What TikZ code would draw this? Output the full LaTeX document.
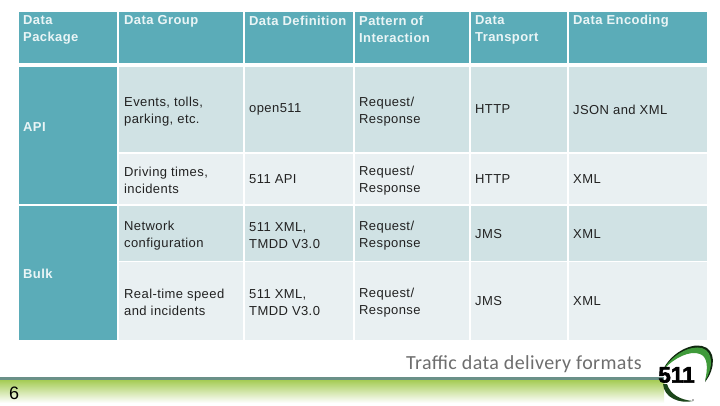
\documentclass[tikz,border=0pt]{standalone}
\usepackage{fontspec}
\setmainfont[LetterSpace=3.2]{Liberation Sans}
\newfontfamily\titlefont[LetterSpace=2]{Carlito}
\newfontfamily\logofont[FakeBold=2.5]{Liberation Sans Bold}
\definecolor{hd}{HTML}{5BACB8}
\definecolor{rowa}{HTML}{D0E2E4}
\definecolor{rowb}{HTML}{E9F0F2}
\definecolor{hdtext}{HTML}{EAF5F6}
\definecolor{bodytext}{HTML}{222222}
\definecolor{barline}{HTML}{6A9088}
\definecolor{bargreen}{HTML}{A5CC55}
\definecolor{titlegrey}{HTML}{6E6E6E}
\definecolor{logogreen}{HTML}{3F9A3A}
\tikzset{
 x=1pt,y=-1pt,
 hdcell/.style={fill=hd},
 acell/.style={fill=rowa},
 bcell/.style={fill=rowb},
 hdtxt/.style={anchor=west,inner sep=0pt,align=left,text=hdtext,font=\fontsize{13}{17}\selectfont\bfseries},
 txt/.style={anchor=west,inner sep=0pt,align=left,text=bodytext,font=\fontsize{13}{17}\selectfont},
}
\begin{document}
\begin{tikzpicture}
\useasboundingbox (0,0) rectangle (720,405);
\fill[white] (0,0) rectangle (720,405);
% header
\foreach \a/\b in {19/117,119/243,245/353,355/469,471/567,569/707}{
  \fill[hdcell] (\a,12) rectangle (\b,63);
}
% package cells
\fill[hdcell] (19,67) rectangle (117,204);
\fill[hdcell] (19,206) rectangle (117,340);
% body
\foreach \a/\b in {119/243,245/353,355/469,471/567,569/707}{
  \fill[acell] (\a,67) rectangle (\b,152);
  \fill[bcell] (\a,154) rectangle (\b,204);
  \fill[acell] (\a,206) rectangle (\b,261);
  \fill[bcell] (\a,262) rectangle (\b,340);
}
% header text
\node[hdtxt] (h1) at (23,29.7) {Data\\Package};
\node[hdtxt] (h2) at (124,21.2) {Data Group};
\node[hdtxt] (h3) at (249,21.2) {Data Definition};
\node[hdtxt] (h4) at (359,29.7) {Pattern of\\Interaction};
\node[hdtxt] (h5) at (475,29.7) {Data\\Transport};
\node[hdtxt] (h6) at (573,21.2) {Data Encoding};
\node[hdtxt] (api) at (23,127.5) {API};
\node[hdtxt] (bulk) at (23,273.5) {Bulk};
% rows
\node[txt] (a2) at (124,111.5) {Events, tolls,\\parking, etc.};
\node[txt] (a3) at (249,109.5) {open511};
\node[txt] (a4) at (359,111.5) {Request/\\Response};
\node[txt] (a5) at (475,109.5) {HTTP};
\node[txt] (a6) at (573,109.5) {JSON and XML};
\node[txt] (b2) at (124,180.5) {Driving times,\\incidents};
\node[txt] (b3) at (249,179.5) {511 API};
\node[txt] (b4) at (359,180.5) {Request/\\Response};
\node[txt] (b5) at (475,179.5) {HTTP};
\node[txt] (b6) at (573,179.5) {XML};
\node[txt] (c2) at (124,235.5) {Network\\configuration};
\node[txt] (c3) at (249,235.5) {511 XML,\\TMDD V3.0};
\node[txt] (c4) at (359,235.5) {Request/\\Response};
\node[txt] (c5) at (475,234.5) {JMS};
\node[txt] (c6) at (573,234.5) {XML};
\node[txt] (d2) at (124,302.5) {Real-time speed\\and incidents};
\node[txt] (d3) at (249,302.5) {511 XML,\\TMDD V3.0};
\node[txt] (d4) at (359,302.5) {Request/\\Response};
\node[txt] (d5) at (475,301.5) {JMS};
\node[txt] (d6) at (573,301.5) {XML};
% bottom bar
\shade[top color=bargreen,bottom color=white] (0,380) rectangle (664,403);
\fill[barline] (0,377) rectangle (664,380);
\node[anchor=west,inner sep=0pt,text=titlegrey,font=\titlefont\fontsize{20}{22}\selectfont] (title) at (406,364) {Traffic data delivery formats};
\node[anchor=west,inner sep=0pt,font=\fontsize{18}{20}\selectfont] (num) at (9,393) {6};
% logo
\fill[black!75!logogreen] (663,370) .. controls (670,354) and (690,343) .. (702,346) .. controls (716,349) and (716,368) .. (705,382) .. controls (709,368) and (711,355) .. (701,351) .. controls (690,347) and (674,356) .. (663,370) -- cycle;
\fill[logogreen] (664,369) .. controls (672,355) and (690,345) .. (702,348) .. controls (714,352) and (713,368) .. (705,381) .. controls (708,368) and (708,357) .. (700,354) .. controls (690,350) and (674,358) .. (664,369) -- cycle;
\fill[black!55!logogreen] (663,384) .. controls (664,398) and (680,404) .. (693,401) .. controls (680,400) and (670,394) .. (667,384) -- cycle;
\node[inner sep=0pt,font=\logofont\fontsize{22.5}{23}\selectfont] (logo) at (676.5,375) {511};
\fill[black!60] (693,400) circle (0.8);
\end{tikzpicture}
\end{document}
